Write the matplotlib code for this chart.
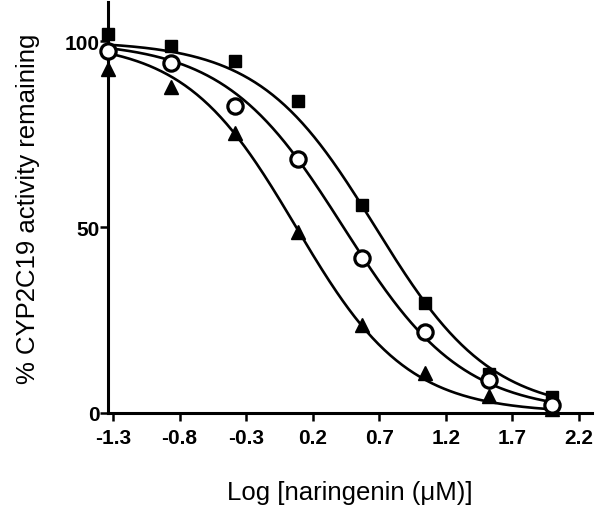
import matplotlib.pyplot as plt
import numpy as np

plt.rcParams["font.family"] = ["Liberation Sans", "DejaVu Sans"]

# log concentration of naringenin (3-fold dilutions from 100 uM)
log_conc = [-1.34, -0.863, -0.386, 0.091, 0.568, 1.046, 1.523, 2.0]

# % activity remaining
squares = [101.9, 98.7, 94.6, 83.9, 55.9, 29.6, 10.5, 4.3]
circles = [97.3, 94.1, 82.5, 68.3, 41.7, 21.8, 8.9, 2.2]
triangles = [92.5, 87.6, 75.3, 48.7, 23.7, 10.8, 4.6, 1.2]

# fitted curve parameters: (log IC50, hill slope)
fit_squares = (0.67, 1.0)
fit_circles = (0.43, 0.97)
fit_triangles = (0.075, 1.04)

xticks = [-1.3, -0.8, -0.3, 0.2, 0.7, 1.2, 1.7, 2.2]
yticks = [0, 50, 100]


def dose_response(x, log_ic50, hill, top=100.0, bottom=0.0):
    return bottom + (top - bottom) / (1 + 10 ** ((x - log_ic50) * hill))


fig = plt.figure(figsize=(6.01, 5.10), dpi=100)
ax = fig.add_axes([108 / 601, 1 - 414 / 510, (592 - 108) / 601, (414 - 3) / 510])

xs = np.linspace(log_conc[0], log_conc[-1], 300)
for fit in (fit_squares, fit_circles, fit_triangles):
    ax.plot(xs, dose_response(xs, *fit), color="black", lw=1.9, zorder=2)

ax.plot(log_conc, squares, ls="none", marker="s", ms=9, color="black",
        clip_on=False, zorder=3)
ax.plot(log_conc, circles, ls="none", marker="o", ms=11, mfc="white",
        mec="black", mew=2.3, clip_on=False, zorder=4)
ax.plot(log_conc, triangles, ls="none", marker="^", ms=10, color="black",
        clip_on=False, zorder=3)

ax.set_xlim(-1.338, 2.298)
ax.set_ylim(0, 110.5)
ax.set_xticks(xticks)
ax.set_xticklabels([f"{t:.1f}" for t in xticks])
ax.set_yticks(yticks)

for side in ("top", "right"):
    ax.spines[side].set_visible(False)
for side in ("left", "bottom"):
    ax.spines[side].set_linewidth(2.2)

ax.tick_params(length=5.5, width=1.8, labelsize=15, pad=5)
ax.tick_params(axis="y", pad=0.5)
for lab in ax.get_xticklabels() + ax.get_yticklabels():
    lab.set_fontweight("bold")

ax.set_xlabel("Log [naringenin (\u03bcM)]", fontsize=18.5, labelpad=24)
ax.set_ylabel("% CYP2C19 activity remaining", fontsize=18.5, labelpad=18)

fig.savefig("out.png", dpi=100)
